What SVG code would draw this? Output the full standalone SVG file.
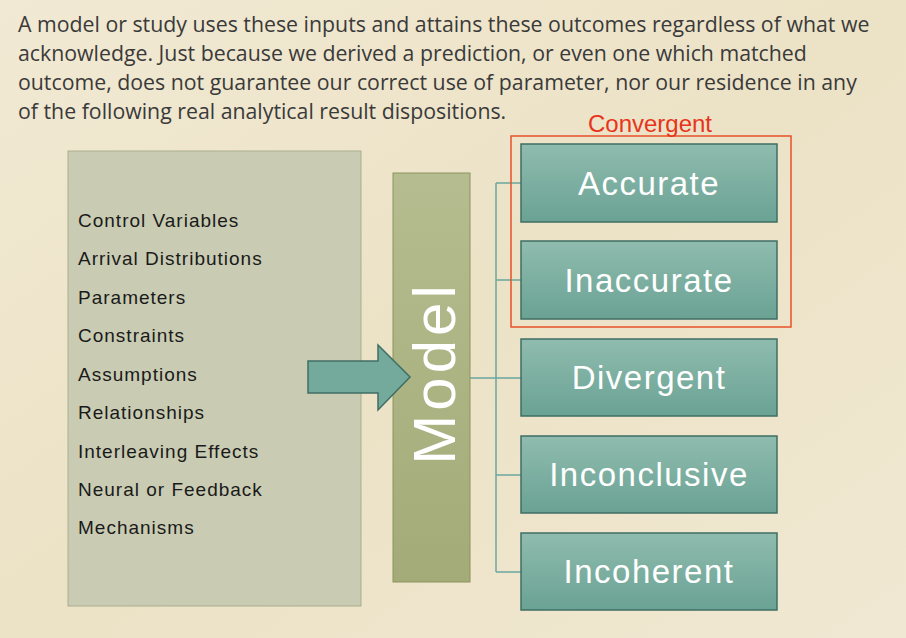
<svg xmlns="http://www.w3.org/2000/svg" width="906" height="638" viewBox="0 0 906 638">
<defs>
<linearGradient id="tg" x1="0" y1="0" x2="0" y2="1"><stop offset="0" stop-color="#8fbcae"/><stop offset="1" stop-color="#6aa294"/></linearGradient>
<linearGradient id="mg" x1="0" y1="0" x2="0" y2="1"><stop offset="0" stop-color="#b5bd90"/><stop offset="1" stop-color="#a3ab78"/></linearGradient>
<linearGradient id="bg" x1="0" y1="0" x2="1" y2="1"><stop offset="0" stop-color="#f1e9d3"/><stop offset="0.5" stop-color="#ece2c6"/><stop offset="1" stop-color="#f0e8d2"/></linearGradient>
</defs>
<style>
.t{font-family:"Open Sans","Liberation Sans",sans-serif;font-size:21.3px;fill:#3a3a3a}
.l{font-family:"Liberation Sans",sans-serif;font-size:19px;fill:#1a1a1a;letter-spacing:1px}
.b{fill:url(#tg);stroke:#3f6e64;stroke-width:1.5}
.bt{font-family:"Liberation Sans",sans-serif;font-size:33px;fill:#fff;text-anchor:middle;letter-spacing:1.5px}
.c{stroke:#6aa8a0;stroke-width:1.5;fill:none}
</style>
<rect width="906" height="638" fill="url(#bg)"/>
<text class="t"><tspan x="18" y="32">A model or study uses these inputs and attains these outcomes regardless of what we</tspan><tspan x="18" y="61">acknowledge. Just because we derived a prediction, or even one which matched</tspan><tspan x="18" y="90">outcome, does not guarantee our correct use of parameter, nor our residence in any</tspan><tspan x="18" y="119">of the following real analytical result dispositions.</tspan></text>
<g id="inputs">
<rect x="68" y="151" width="293" height="455" fill="#c9ccb3" stroke="#a9ad8f"/>
<text class="l"><tspan x="78" y="227">Control Variables</tspan><tspan x="78" y="265">Arrival Distributions</tspan><tspan x="78" y="304">Parameters</tspan><tspan x="78" y="342">Constraints</tspan><tspan x="78" y="381">Assumptions</tspan><tspan x="78" y="419">Relationships</tspan><tspan x="78" y="458">Interleaving Effects</tspan><tspan x="78" y="496">Neural or Feedback</tspan><tspan x="78" y="534">Mechanisms</tspan></text>
</g>
<g id="connectors">
<path class="c" d="M470 378H521M496 183V572M496 183H521M496 280H521M496 475H521M496 572H521"/>
</g>
<g id="model">
<rect x="393" y="173" width="77" height="409" fill="url(#mg)" stroke="#8c935f"/>
<text transform="translate(455 373) rotate(-90)" font-family="Liberation Sans,sans-serif" font-size="60" letter-spacing="4" fill="#fff" text-anchor="middle">Model</text>
</g>
<g id="arrow">
<path d="M308 361H378V345L410 377L378 410V393H308Z" fill="#74aa9c" stroke="#3f6e64" stroke-width="1.5"/>
</g>
<g id="accurate"><rect class="b" x="521" y="144" width="256" height="78"/><text class="bt" x="649" y="195">Accurate</text></g>
<g id="inaccurate"><rect class="b" x="521" y="241" width="256" height="78"/><text class="bt" x="649" y="292">Inaccurate</text></g>
<g id="divergent"><rect class="b" x="521" y="339" width="256" height="77"/><text class="bt" x="649" y="389">Divergent</text></g>
<g id="inconclusive"><rect class="b" x="521" y="436" width="256" height="77"/><text class="bt" x="649" y="486">Inconclusive</text></g>
<g id="incoherent"><rect class="b" x="521" y="533" width="256" height="77"/><text class="bt" x="649" y="583">Incoherent</text></g>
<g id="convergent">
<rect x="511" y="136" width="280" height="191" fill="none" stroke="#e8502a" stroke-width="1.5"/>
<text x="650" y="132" font-family="Liberation Sans,sans-serif" font-size="24" fill="#e8341a" text-anchor="middle">Convergent</text>
</g>
</svg>
